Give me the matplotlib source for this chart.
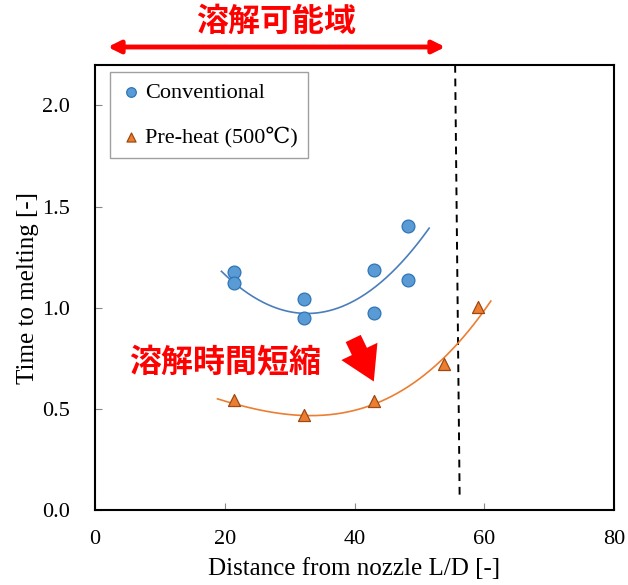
import numpy as np
import matplotlib
matplotlib.use("Agg")
import matplotlib.pyplot as plt
from matplotlib.patches import FancyArrowPatch

# measured points
conv_x = [21.5, 21.5, 32.2, 32.2, 43.0, 43.0, 48.3, 48.3]
conv_y = [1.177, 1.12, 1.044, 0.951, 1.189, 0.976, 1.405, 1.136]
pre_x = [21.5, 32.2, 43.0, 53.8, 59.0]
pre_y = [0.545, 0.472, 0.538, 0.72, 1.004]
conv_fit_x = [19.5, 25.5, 32.2, 43.0, 51.5]
conv_fit_y = [1.189, 1.029, 0.951, 1.128, 1.381]
pre_fit_x = [18.9, 31.9, 43.0, 55.9, 61.0]
pre_fit_y = [0.550, 0.467, 0.525, 0.822, 1.034]
# limit line (slightly slanted in the source)
limit_x = [55.5, 56.2]
limit_y = [2.2, 0.05]
xticks = [0, 20, 40, 60, 80]
yticks = [0.0, 0.5, 1.0, 1.5, 2.0]

serif = ["Liberation Serif", "DejaVu Serif"]
cjk = ["Noto Sans CJK JP", "DejaVu Sans"]

fig = plt.figure(figsize=(6.28, 5.85), dpi=100)
ax = fig.add_axes([0.151, 0.128, 0.827, 0.761])

for fx, fy, col, deg in [(conv_fit_x, conv_fit_y, "#4A7EBB", 2),
                         (pre_fit_x, pre_fit_y, "#ED7D31", 3)]:
    c = np.polyfit(fx, fy, deg)
    xx = np.linspace(min(fx), max(fx), 200)
    ax.plot(xx, np.polyval(c, xx), color=col, lw=1.2, zorder=2)

ax.scatter(conv_x, conv_y, s=85, marker="o", facecolor="#5B9BD5",
           edgecolor="#2E75B6", linewidth=0.9, zorder=3, label="Conventional")
ax.scatter(pre_x, pre_y, s=75, marker="^", facecolor="#ED7D31",
           edgecolor="#9C4A12", linewidth=0.9, zorder=3, label="Pre-heat (500\u2103)")

ax.plot(limit_x, limit_y, color="black", ls=(0, (4, 3)), lw=1.4, zorder=1, clip_on=False)

ax.set_xlim(0, 80)
ax.set_ylim(0, 2.2)
ax.set_xticks(xticks)
ax.set_yticks(yticks)
ax.set_yticklabels([f"{v:.1f}" for v in yticks])
ax.tick_params(direction="in", length=5, width=0.8, color="#888888", labelsize=16)
ax.tick_params(axis="x", pad=14)
ax.tick_params(axis="y", pad=18)
for lab in ax.get_xticklabels() + ax.get_yticklabels():
    lab.set_family(serif)
for sp in ax.spines.values():
    sp.set_linewidth(1.5)
ax.set_xlabel("Distance from nozzle L/D [-]", family=serif, fontsize=18, labelpad=7)
ax.set_ylabel("Time to melting [-]", family=serif, fontsize=18, labelpad=2)

leg = ax.legend(loc="upper left", bbox_to_anchor=(0.029, 0.984), prop={"family": serif, "size": 16},
                frameon=True, fancybox=False, edgecolor="#888888", handletextpad=0.15,
                labelspacing=1.1, borderpad=0.45, handlelength=1.0, markerscale=0.75,
                borderaxespad=0.0)
leg.get_frame().set_linewidth(1.0)

# top annotation
fig.patches.append(FancyArrowPatch((105 / 628, 1 - 47 / 585), (448 / 628, 1 - 47 / 585),
                                   transform=fig.transFigure, arrowstyle="<|-|>",
                                   mutation_scale=18, color="#FF0000", lw=3.5))
fig.text(276 / 628, 1 - 22 / 585, "溶解可能域", family=cjk, fontweight="bold",
         fontsize=23, color="#FF0000", ha="center", va="center")

fig.text(225 / 628, 1 - 362 / 585, "溶解時間短縮", family=cjk, fontweight="bold",
         fontsize=23, color="#FF0000", ha="center", va="center")

fig.patches.append(FancyArrowPatch((352 / 628, 1 - 336 / 585), (375 / 628, 1 - 384 / 585),
                                   transform=fig.transFigure,
                                   arrowstyle="simple,head_width=2.4,head_length=2.0,tail_width=1.0",
                                   mutation_scale=12, color="#FF0000", lw=0))

fig.savefig("out.png", dpi=100)
